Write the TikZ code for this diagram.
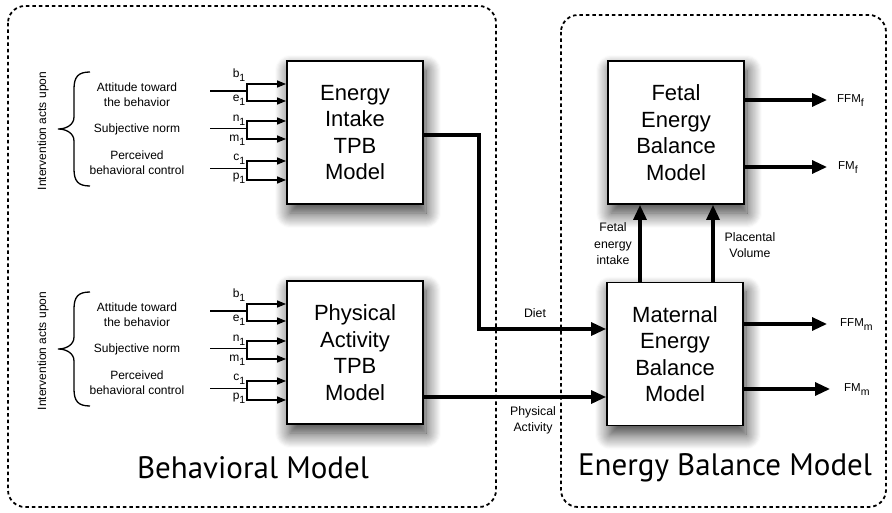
\documentclass[tikz,border=0pt]{standalone}
\usepackage{fontspec}
\setmainfont{Liberation Sans}
\newfontfamily\titlefont{PT Sans}
\usetikzlibrary{arrows.meta,shadows.blur,calc}

% lowered index, as used on the input and output labels
\newcommand\idx[1]{\raisebox{-0.36em}{\fontsize{10.5}{10.5}\selectfont #1}}

% Inputs of one TPB model: #1 = model node, #2 = top edge of that node
\newcommand\tpbinputs[2]{%
  \node[small, rotate=90] (#1-int) at (43,#2+70) {Intervention acts upon};
  \draw[bracestroke] (90,#2+11) .. controls (78,#2+11) and (74,#2+16) .. (74,#2+28)
    -- (74,#2+56) .. controls (74,#2+64) and (66,#2+68) .. (58,#2+68)
    .. controls (66,#2+68) and (74,#2+72) .. (74,#2+80)
    -- (74,#2+108) .. controls (74,#2+120) and (78,#2+125) .. (90,#2+125);
  \node[small] (#1-att) at (137,#2+33.5) {Attitude toward\\the behavior};
  \node[small] (#1-sub) at (137,#2+68.5) {Subjective norm};
  \node[small] (#1-pbc) at (137,#2+102) {Perceived\\behavioral control};
  % stems and their junctions
  \coordinate (#1-s1) at (210,#2+30);    \coordinate (#1-j1) at (247,#2+30);
  \coordinate (#1-s2) at (210,#2+67.5);  \coordinate (#1-j2) at (247,#2+67.5);
  \coordinate (#1-s3) at (210,#2+107.5); \coordinate (#1-j3) at (247,#2+107.5);
  \draw[stem] (#1-s1) -- (#1-j1);
  \draw[stem] (#1-s2) -- (#1-j2);
  \draw[stem] (#1-s3) -- (#1-j3);
  \draw[feed] (#1-j1) |- (#1.west |- 0,#2+23);
  \draw[feed] (#1-j1) |- (#1.west |- 0,#2+40);
  \draw[feed] (#1-j2) |- (#1.west |- 0,#2+60);
  \draw[feed] (#1-j2) |- (#1.west |- 0,#2+78);
  \draw[feed] (#1-j3) |- (#1.west |- 0,#2+100);
  \draw[feed] (#1-j3) |- (#1.west |- 0,#2+119);
  \node[sublabel] (#1-b) at (245.5,#2+14)   {b\idx{1}};
  \node[sublabel] (#1-e) at (245.5,#2+37.5) {e\idx{1}};
  \node[sublabel] (#1-n) at (245.5,#2+58)   {n\idx{1}};
  \node[sublabel] (#1-m) at (245.5,#2+78)   {m\idx{1}};
  \node[sublabel] (#1-c) at (245.5,#2+96.5) {c\idx{1}};
  \node[sublabel] (#1-p) at (245.5,#2+115.5){p\idx{1}};
}

\begin{document}
\begin{tikzpicture}[x=1pt,y=-1pt,
  model/.style={draw, line width=1.8pt, fill=white,
    minimum width=136pt, minimum height=143pt, inner sep=0pt, align=center,
    font=\fontsize{22}{26.5}\selectfont,
    blur shadow={shadow xshift=3pt, shadow yshift=-9pt,
      shadow blur radius=15pt, shadow blur steps=15, shadow opacity=80}},
  group/.style={draw, dash pattern=on 3.5pt off 3pt, line width=1.8pt,
    rounded corners=17pt},
  flow/.style={line width=3.2pt, line join=miter, -{Triangle[length=15pt,width=13pt]}},
  feed/.style={line width=1.3pt, line join=miter, -{Triangle[length=9pt,width=7pt]}},
  stem/.style={line width=1.3pt},
  bracestroke/.style={line width=1.3pt},
  small/.style={font=\fontsize{12}{15}\selectfont, align=center},
  sublabel/.style={font=\fontsize{12}{14}\selectfont, anchor=mid east, inner sep=0pt},
  flowlabel/.style={font=\fontsize{12.3}{16.5}\selectfont, align=center},
  outlabel/.style={font=\fontsize{11.5}{14}\selectfont, anchor=mid west, inner sep=0pt},
  title/.style={font=\titlefont\fontsize{31}{36}\selectfont}
]
\useasboundingbox (0,0) rectangle (892,513);

% the two sub-model frames
\draw[group] (8,6) rectangle (496,507);
\draw[group] (561,15) rectangle (886,507);

% model blocks
\node[model] (ei) at (355,132.5) {Energy\\Intake\\TPB\\Model};
\node[model] (pa) at (355,352.5) {Physical\\Activity\\TPB\\Model};
\node[model] (fe) at (676,132.5) {Fetal\\Energy\\Balance\\Model};
\node[model] (ma) at (675,354)   {Maternal\\Energy\\Balance\\Model};

% behavioral inputs of both TPB models
\tpbinputs{ei}{61}
\tpbinputs{pa}{281}

% behavioral model outputs to the maternal model
\coordinate (dj1) at (479,135);
\coordinate (dj2) at (479,329);
\draw[flow] (ei.east |- dj1) -- (dj1) -- (dj2) -- (ma.west |- dj2);
\draw[flow] (pa.east |- 0,397) -- (ma.west |- 0,397);
\node[flowlabel] (diet) at (535,313) {Diet};
\node[flowlabel] (act) at (533,420.5) {Physical\\Activity};

% maternal to fetal
\draw[flow] (ma.north -| 640,0) -- (fe.south -| 640,0);
\draw[flow] (ma.north -| 713,0) -- (fe.south -| 713,0);
\node[flowlabel] (fei) at (613,244) {Fetal\\energy\\intake};
\node[flowlabel] (plv) at (750,245) {Placental\\Volume};

% body composition outputs
\coordinate (o1) at (827,100);
\coordinate (o2) at (827,167);
\coordinate (o3) at (827,324);
\coordinate (o4) at (830,389);
\draw[flow] (fe.east |- o1) -- (o1);
\draw[flow] (fe.east |- o2) -- (o2);
\draw[flow] (ma.east |- o3) -- (o3);
\draw[flow] (ma.east |- o4) -- (o4);
\node[outlabel] (ffmf) at (837,100) {FFM\idx{f}};
\node[outlabel] (fmf)  at (838,167) {FM\idx{f}};
\node[outlabel] (ffmm) at (840,324) {FFM\idx{m}};
\node[outlabel] (fmm)  at (844,389) {FM\idx{m}};

% frame titles
\node[title] (bt) at (253,468) {Behavioral Model};
\node[title] (et) at (725,468) {Energy Balance Model};
\end{tikzpicture}
\end{document}
